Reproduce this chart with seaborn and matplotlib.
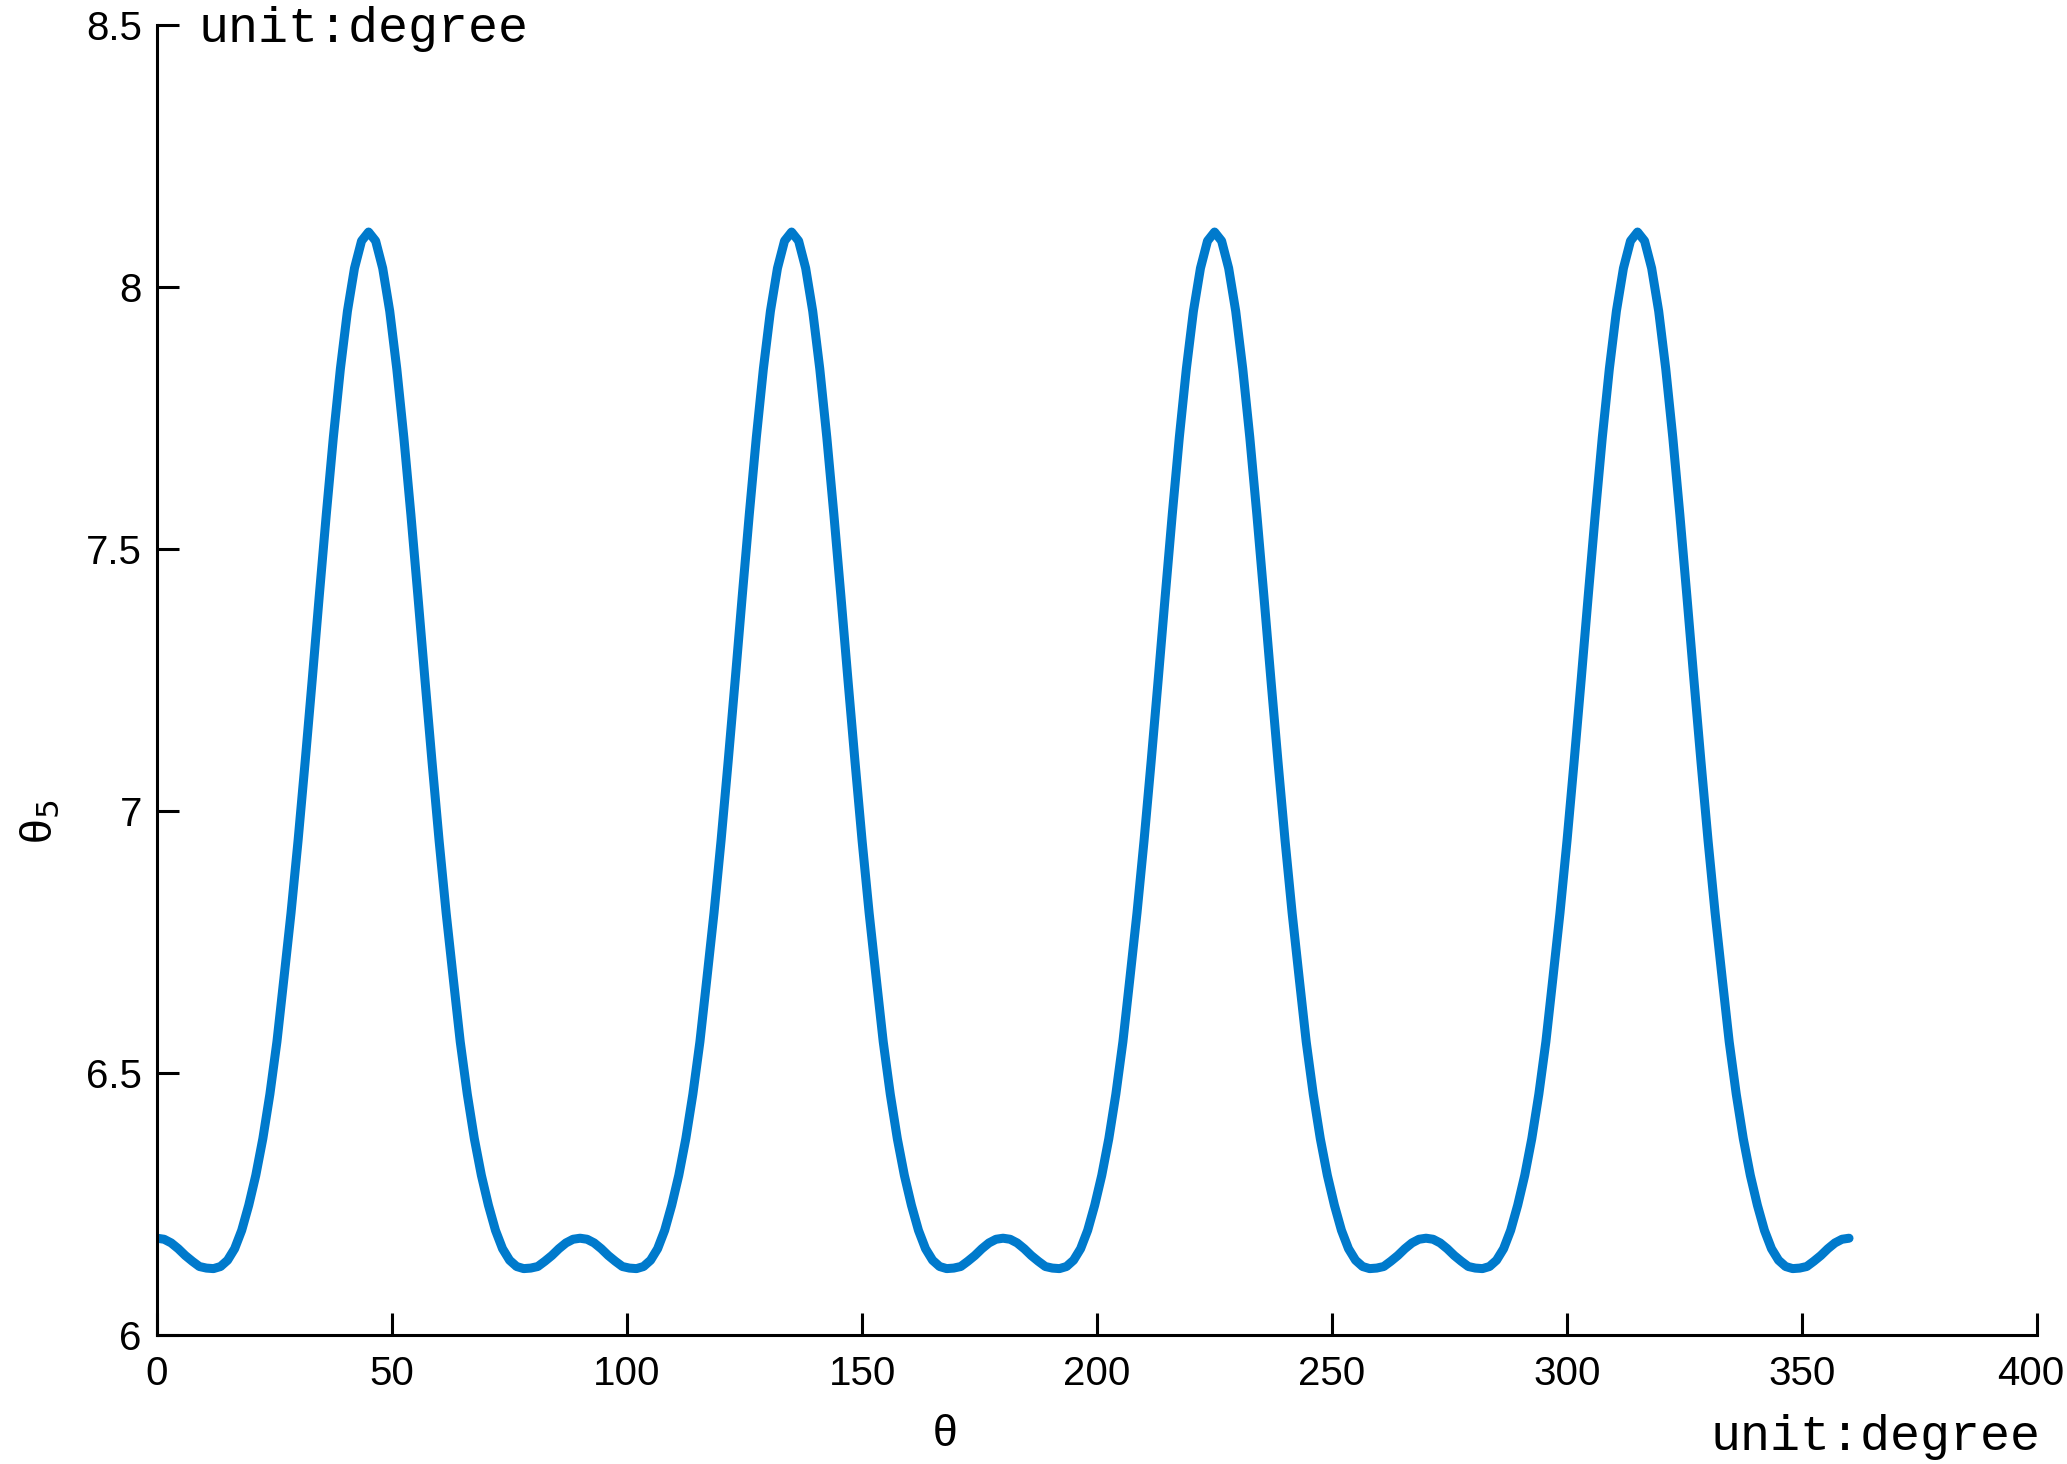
import numpy as np
import pandas as pd
import matplotlib
matplotlib.use("Agg")
import matplotlib.pyplot as plt
import matplotlib.transforms as mtransforms
import seaborn as sns

# theta (deg), one sample every 1.5 degrees from 0 to 360
theta = np.arange(0, 360.01, 1.5)

# theta5 values, one row per half period (45 deg)
theta5 = (
    [6.185, 6.183, 6.176, 6.165, 6.152, 6.141, 6.131, 6.128, 6.127, 6.131,
     6.143, 6.165, 6.200, 6.248, 6.305, 6.375, 6.460, 6.560, 6.682, 6.806,
     6.944, 7.094, 7.250, 7.410, 7.566, 7.713, 7.844, 7.954, 8.036, 8.088, 8.105]
    + [8.088, 8.036, 7.954, 7.844, 7.713, 7.566, 7.410, 7.250, 7.094, 6.944,
       6.806, 6.682, 6.560, 6.460, 6.375, 6.305, 6.248, 6.200, 6.165, 6.143,
       6.131, 6.127, 6.128, 6.131, 6.141, 6.152, 6.165, 6.176, 6.183, 6.185]
    + [6.183, 6.176, 6.165, 6.152, 6.141, 6.131, 6.128, 6.127, 6.131,
       6.143, 6.165, 6.200, 6.248, 6.305, 6.375, 6.460, 6.560, 6.682, 6.806,
       6.944, 7.094, 7.250, 7.410, 7.566, 7.713, 7.844, 7.954, 8.036, 8.088, 8.105]
    + [8.088, 8.036, 7.954, 7.844, 7.713, 7.566, 7.410, 7.250, 7.094, 6.944,
       6.806, 6.682, 6.560, 6.460, 6.375, 6.305, 6.248, 6.200, 6.165, 6.143,
       6.131, 6.127, 6.128, 6.131, 6.141, 6.152, 6.165, 6.176, 6.183, 6.185]
    + [6.183, 6.176, 6.165, 6.152, 6.141, 6.131, 6.128, 6.127, 6.131,
       6.143, 6.165, 6.200, 6.248, 6.305, 6.375, 6.460, 6.560, 6.682, 6.806,
       6.944, 7.094, 7.250, 7.410, 7.566, 7.713, 7.844, 7.954, 8.036, 8.088, 8.105]
    + [8.088, 8.036, 7.954, 7.844, 7.713, 7.566, 7.410, 7.250, 7.094, 6.944,
       6.806, 6.682, 6.560, 6.460, 6.375, 6.305, 6.248, 6.200, 6.165, 6.143,
       6.131, 6.127, 6.128, 6.131, 6.141, 6.152, 6.165, 6.176, 6.183, 6.185]
    + [6.183, 6.176, 6.165, 6.152, 6.141, 6.131, 6.128, 6.127, 6.131,
       6.143, 6.165, 6.200, 6.248, 6.305, 6.375, 6.460, 6.560, 6.682, 6.806,
       6.944, 7.094, 7.250, 7.410, 7.566, 7.713, 7.844, 7.954, 8.036, 8.088, 8.105]
    + [8.088, 8.036, 7.954, 7.844, 7.713, 7.566, 7.410, 7.250, 7.094, 6.944,
       6.806, 6.682, 6.560, 6.460, 6.375, 6.305, 6.248, 6.200, 6.165, 6.143,
       6.131, 6.127, 6.128, 6.131, 6.141, 6.152, 6.165, 6.176, 6.183, 6.185]
)

xticks = [0, 50, 100, 150, 200, 250, 300, 350, 400]
yticks = [6, 6.5, 7, 7.5, 8, 8.5]
ytick_labels = ["6", "6.5", "7", "7.5", "8", "8.5"]

df = pd.DataFrame({"theta": theta, "theta5": theta5})

sns.set_theme(style="ticks")
plt.rcParams["font.family"] = ["Liberation Sans", "DejaVu Sans"]

fig = plt.figure(figsize=(20.67, 14.64), dpi=100)
ax = fig.add_axes([0.076, 0.088, 0.9095, 0.8949])

sns.lineplot(data=df, x="theta", y="theta5", ax=ax, color="#007ACC",
             linewidth=6.5)

ax.set_xlim(0, 400)
ax.set_ylim(6, 8.5)
ax.set_xticks(xticks)
ax.set_yticks(yticks)
ax.set_yticklabels(ytick_labels)
sns.despine(ax=ax)
for s in ["left", "bottom"]:
    ax.spines[s].set_linewidth(2.2)
    ax.spines[s].set_color("black")
ax.tick_params(axis="both", direction="in", length=16, width=2.2, colors="black",
               labelsize=29)
ax.tick_params(axis="x", pad=14)
ax.tick_params(axis="y", pad=11)

# keep the last x label inside the figure edge
last = ax.get_xticklabels()[-1]
last.set_transform(last.get_transform()
                   + mtransforms.ScaledTranslation(-6 / 100, 0, fig.dpi_scale_trans))

ax.set_xlabel("θ", fontsize=32, color="black")
ax.xaxis.set_label_coords(0.419, -0.060)
ax.set_ylabel("θ$_5$", fontsize=32, color="black")
ax.yaxis.set_label_coords(-0.051, 0.392)

mono = ["Liberation Mono", "DejaVu Sans Mono"]
fig.text(0.0958, 0.9713, "unit:degree", family=mono, fontsize=36, color="black",
         ha="left", va="baseline")
fig.text(0.8275, 0.0095, "unit:degree", family=mono, fontsize=36, color="black",
         ha="left", va="baseline")

plt.savefig("out.png", dpi=100)
plt.close()
